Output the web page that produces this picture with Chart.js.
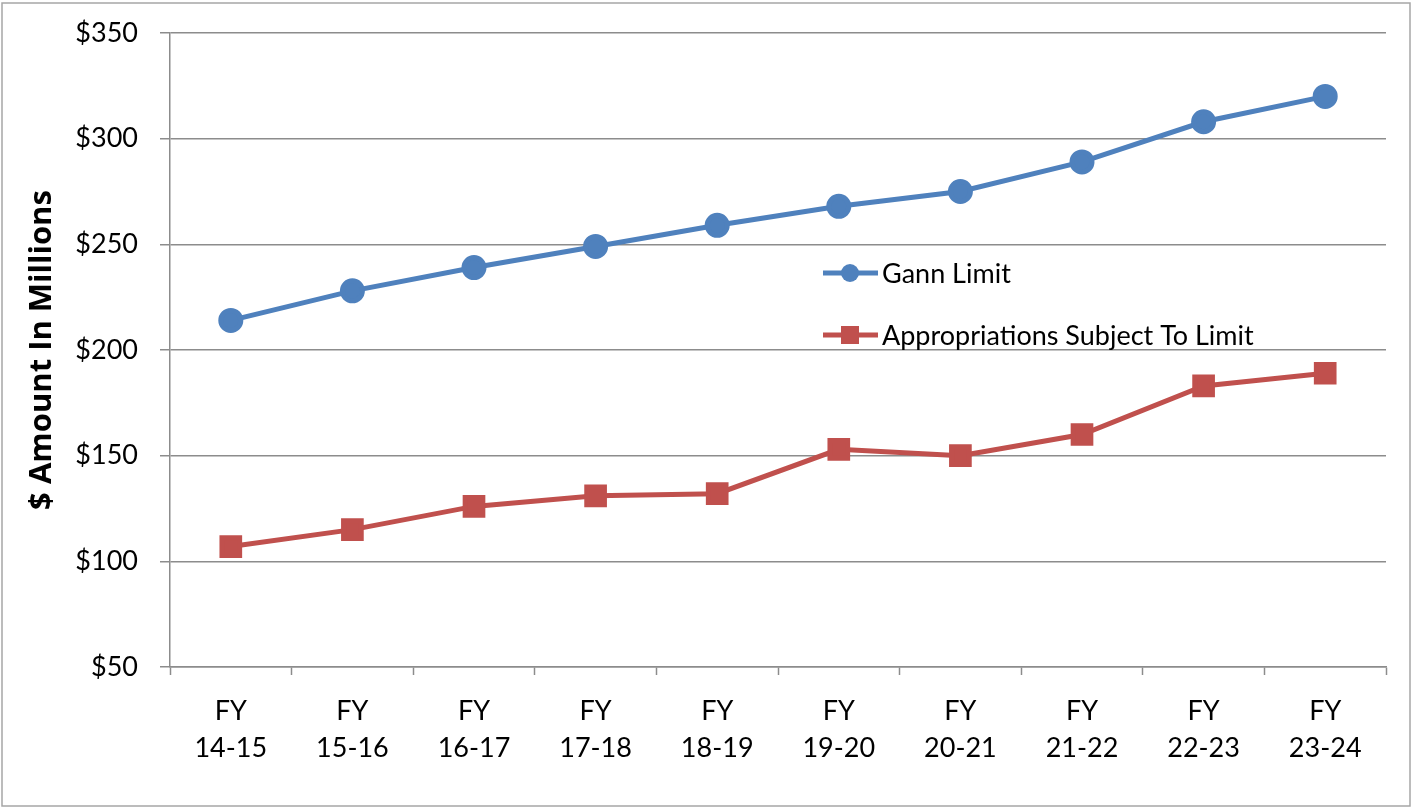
<!DOCTYPE html>
<html>
<head>
<meta charset="utf-8">
<script src="https://cdn.jsdelivr.net/npm/chart.js@4"></script>
<style>
  html, body { margin: 0; padding: 0; background: #fff; }
  #wrap { width: 1412px; height: 808px; position: relative; }
</style>
</head>
<body>
<div id="wrap"><canvas id="gannChart" width="1412" height="808"></canvas></div>
<script>
// fiscal years on the x axis
const fiscalYears = ['14-15', '15-16', '16-17', '17-18', '18-19', '19-20', '20-21', '21-22', '22-23', '23-24'];
// $ millions
const gannLimit = [214, 228, 239, 249, 259, 268, 275, 289, 308, 320];
const appropriations = [107, 115, 126, 131, 132, 153, 150, 160, 183, 189];
const yTicks = [50, 100, 150, 200, 250, 300, 350];

const FONT = 'Lato, "Open Sans", sans-serif';
const GRID = '#8c8c8c';

// legend sits inside the plot, drawn by hand
const insideLegend = {
    id: 'insideLegend',
    afterDraw(chart) {
        const ctx = chart.ctx;
        const rows = [273, 335];
        ctx.save();
        chart.data.datasets.forEach((ds, i) => {
            const y = rows[i];
            ctx.strokeStyle = ds.borderColor;
            ctx.fillStyle = ds.backgroundColor;
            ctx.lineWidth = 5;
            ctx.beginPath();
            ctx.moveTo(823, y);
            ctx.lineTo(878, y);
            ctx.stroke();
            if (ds.pointStyle === 'circle') {
                ctx.beginPath();
                ctx.arc(850, y, 9, 0, Math.PI * 2);
                ctx.fill();
            } else {
                ctx.fillRect(841, y - 9, 18, 18);
            }
            ctx.fillStyle = '#000';
            ctx.font = '27px ' + FONT;
            ctx.textBaseline = 'middle';
            ctx.fillText(ds.label, 882, y + 1);
        });
        ctx.restore();
    }
};

// thin frame round the whole chart
const outerFrame = {
    id: 'outerFrame',
    afterDraw(chart) {
        const ctx = chart.ctx;
        ctx.save();
        ctx.strokeStyle = '#a6a6a6';
        ctx.lineWidth = 1.5;
        ctx.strokeRect(2, 3, 1408, 803);
        ctx.restore();
    }
};

new Chart(document.getElementById('gannChart'), {
    type: 'line',
    data: {
        labels: fiscalYears.map(fy => ['FY', fy]),
        datasets: [{
            label: 'Gann Limit',
            data: gannLimit,
            borderColor: '#4F81BD',
            backgroundColor: '#4F81BD',
            borderWidth: 5,
            pointStyle: 'circle',
            pointRadius: 10,
            pointHoverRadius: 10,
            tension: 0
        }, {
            label: 'Appropriations Subject To Limit',
            data: appropriations,
            borderColor: '#C0504D',
            backgroundColor: '#C0504D',
            borderWidth: 5,
            pointStyle: 'rect',
            pointRadius: 12.5,
            pointHoverRadius: 12.5,
            tension: 0
        }]
    },
    options: {
        responsive: false,
        animation: false,
        layout: { padding: { left: 0, right: 26, top: 33, bottom: 0 } },
        plugins: {
            legend: { display: false },
            tooltip: { enabled: false }
        },
        scales: {
            x: {
                offset: true,
                afterFit: scale => { scale.height = 141; },
                grid: {
                    offset: true,
                    drawOnChartArea: false,
                    drawTicks: true,
                    tickLength: 8,
                    tickColor: GRID,
                    tickWidth: 1.5
                },
                border: { display: true, color: GRID, width: 1.5 },
                ticks: {
                    color: '#000',
                    padding: 18,
                    maxRotation: 0,
                    autoSkip: false,
                    font: { family: FONT, size: 27, lineHeight: 37 / 27 }
                }
            },
            y: {
                min: 50,
                max: 350,
                afterFit: scale => {
                    scale.width = 170;
                    scale.paddingTop = 0;
                    scale.paddingBottom = 0;
                },
                afterBuildTicks: scale => { scale.ticks = yTicks.map(v => ({ value: v })); },
                grid: {
                    color: GRID,
                    lineWidth: 1.5,
                    tickLength: 10,
                    tickColor: GRID
                },
                border: { display: true, color: GRID, width: 1.5 },
                ticks: {
                    color: '#000',
                    padding: 22,
                    font: { family: FONT, size: 27 },
                    callback: v => '$' + v
                },
                title: {
                    display: true,
                    text: '$ Amount In Millions',
                    color: '#000',
                    padding: { top: 24, bottom: 0 },
                    font: { family: '"Open Sans", sans-serif', size: 31, weight: 'bold' }
                }
            }
        }
    },
    plugins: [insideLegend, outerFrame]
});
</script>
</body>
</html>
